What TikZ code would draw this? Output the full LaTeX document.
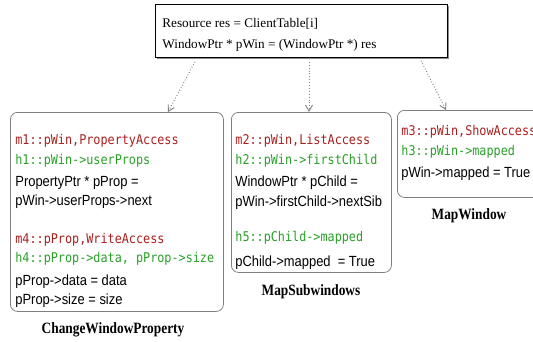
\documentclass[tikz,border=0pt]{standalone}
\usepackage{fontspec}
\setmainfont{Liberation Serif}
\newfontfamily\codefont[FakeStretch=0.88]{DejaVu Sans Mono}
\newfontfamily\stmtfont[FakeStretch=0.88]{Liberation Sans}
\newfontfamily\namefont[FakeStretch=0.85]{Liberation Serif}
\usetikzlibrary{arrows.meta,shadows}
\definecolor{mred}{RGB}{170,30,30}
\definecolor{hgreen}{RGB}{40,160,40}

\begin{document}
\begin{tikzpicture}[
    x=1pt, y=-1pt,
    line width=0.8pt,
    block/.style={draw=black!50, rounded corners=7pt, anchor=north west, inner sep=0pt},
    toprect/.style={draw=black, fill=white, anchor=north west, inner sep=0pt,
      drop shadow={shadow xshift=1.5pt, shadow yshift=-1.5pt, fill=black!45, opacity=1}},
    mline/.style={anchor=base west, inner sep=0pt, text=mred, font=\codefont\fontsize{13.4}{16}\selectfont},
    hline/.style={mline, text=hgreen},
    stmt/.style={anchor=base west, inner sep=0pt, font=\stmtfont\fontsize{14.7}{17}\selectfont},
    topline/.style={anchor=base west, inner sep=0pt, font=\fontsize{13.2}{16}\selectfont},
    fname/.style={anchor=base, inner sep=0pt, font=\namefont\bfseries\fontsize{15.7}{18}\selectfont},
    flow/.style={draw=black!50, dotted, line width=0.9pt, -{Straight Barb[length=6pt,width=7pt]}}
]
  \clip (0,0) rectangle (533,341);

  % resource lookup
  \node[toprect, minimum width=292, minimum height=53] (res) at (155,4) {};
  \node[topline] (r1) at (162,27) {Resource res = ClientTable[i]};
  \node[topline] (r2) at (162,48) {WindowPtr * pWin = (WindowPtr *) res};

  % ChangeWindowProperty
  \node[block, minimum width=213, minimum height=199] (cwp) at (10,112) {};
  \node[mline] (m1) at (15,144) {m1::pWin,PropertyAccess};
  \node[hline] (h1) at (15,164) {h1::pWin->userProps};
  \node[stmt]  (s1) at (15,186) {PropertyPtr * pProp =};
  \node[stmt]  (s2) at (15,205) {pWin->userProps->next};
  \node[mline] (m4) at (15,243) {m4::pProp,WriteAccess};
  \node[hline] (h4) at (15,262) {h4::pProp->data, pProp->size};
  \node[stmt]  (s3) at (15,285) {pProp->data = data};
  \node[stmt]  (s4) at (15,304) {pProp->size = size};
  \node[fname] (cwpname) at (113,333) {ChangeWindowProperty};

  % MapSubwindows
  \node[block, minimum width=160, minimum height=160] (msw) at (231,112) {};
  \node[mline] (m2) at (235,144) {m2::pWin,ListAccess};
  \node[hline] (h2) at (235,164) {h2::pWin->firstChild};
  \node[stmt]  (s5) at (235,186) {WindowPtr * pChild =};
  \node[stmt]  (s6) at (235,206) {pWin->firstChild->nextSib};
  \node[hline] (h5) at (235,241) {h5::pChild->mapped};
  \node[stmt]  (s7) at (235,266) {pChild->mapped\ \ = True};
  \node[fname] (mswname) at (311,295) {MapSubwindows};

  % MapWindow
  \node[block, minimum width=150, minimum height=87] (mw) at (397,110) {};
  \node[mline] (m3) at (401,135) {m3::pWin,ShowAccess};
  \node[hline] (h3) at (401,155) {h3::pWin->mapped};
  \node[stmt]  (s8) at (401,177) {pWin->mapped = True};
  \node[fname] (mwname) at (469,219) {MapWindow};

  % edges
  \draw[flow] ([xshift=40pt,yshift=-4pt]res.south west) -- ([xshift=158pt]cwp.north west);
  \draw[flow] ([xshift=154pt,yshift=-4pt]res.south west) -- ([xshift=78pt]msw.north west);
  \draw[flow] ([xshift=266pt,yshift=-3pt]res.south west) -- ([xshift=49pt]mw.north west);
\end{tikzpicture}
\end{document}
